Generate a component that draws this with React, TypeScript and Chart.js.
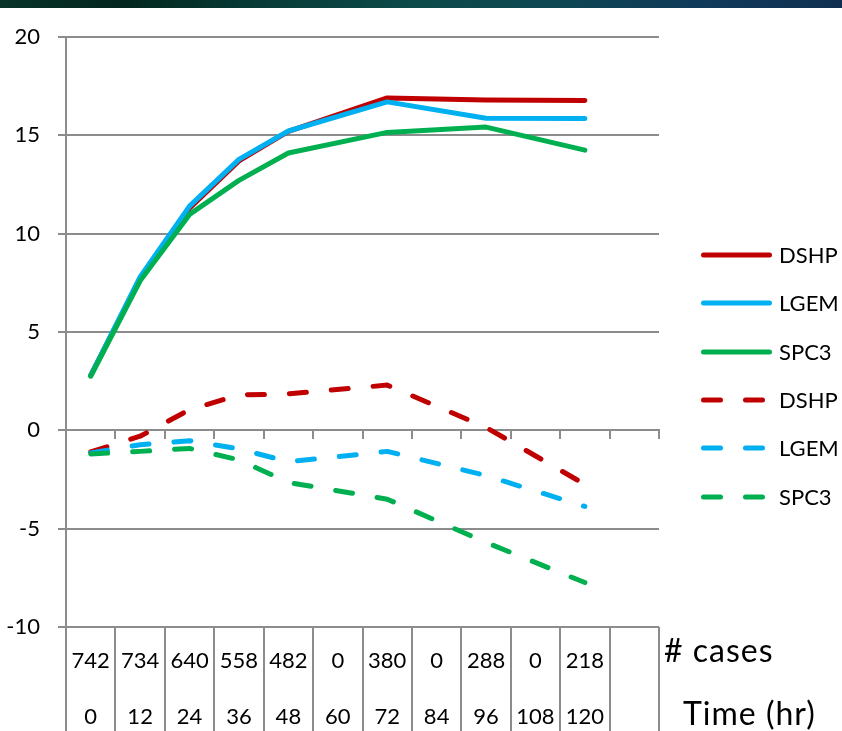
import React, { useEffect, useRef } from "react";
import { Chart, registerables } from "chart.js";

Chart.register(...registerables);

// Time points (hours); the last column is left empty
const timeHr = ["0", "12", "24", "36", "48", "60", "72", "84", "96", "108", "120", ""];
// Number of cases at each time point
const caseCounts = ["742", "734", "640", "558", "482", "0", "380", "0", "288", "0", "218", ""];

// Solid lines
const dshpSolid = [2.8, 7.7, 11.3, 13.7, 15.2, null, 16.9, null, 16.8, null, 16.77, null];
const lgemSolid = [2.8, 7.8, 11.4, 13.78, 15.22, null, 16.7, null, 15.87, null, 15.85, null];
const spc3Solid = [2.75, 7.6, 10.98, 12.71, 14.1, null, 15.15, null, 15.42, null, 14.25, null];

// Dashed lines
const dshpDashed = [-1.1, -0.3, 1.05, 1.8, 1.85, null, 2.3, null, 0.15, null, -2.75, null];
const lgemDashed = [-1.15, -0.73, -0.53, -0.94, -1.6, null, -1.07, null, -2.3, null, -3.87, null];
const spc3Dashed = [-1.2, -1.07, -0.92, -1.5, -2.65, null, -3.5, null, -5.7, null, -7.74, null];

const yMin = -10;
const yMax = 20;
const yStep = 5;

const RED = "#c00000";
const BLUE = "#00b0f0";
const GREEN = "#00b050";
const GRID = "#8c8c8c";
const DASH = [17, 25];
const FONT = "Lato, 'Open Sans', sans-serif";

type SeriesDef = { label: string; data: (number | null)[]; color: string; dashed: boolean; order: number };

const series: SeriesDef[] = [
  { label: "DSHP", data: dshpSolid, color: RED, dashed: false, order: 5 },
  { label: "LGEM", data: lgemSolid, color: BLUE, dashed: false, order: 4 },
  { label: "SPC3", data: spc3Solid, color: GREEN, dashed: false, order: 3 },
  { label: "DSHP", data: dshpDashed, color: RED, dashed: true, order: 2 },
  { label: "LGEM", data: lgemDashed, color: BLUE, dashed: true, order: 1 },
  { label: "SPC3", data: spc3Dashed, color: GREEN, dashed: true, order: 0 },
];

export default function App() {
  const canvasRef = useRef<HTMLCanvasElement | null>(null);

  useEffect(() => {
    if (!canvasRef.current) return;
    const chart = new Chart(canvasRef.current, {
      type: "line",
      data: {
        labels: timeHr,
        datasets: series.map((s) => ({
          label: s.label,
          data: s.data,
          borderColor: s.color,
          backgroundColor: s.color,
          borderWidth: 5,
          borderDash: s.dashed ? DASH : [],
          borderCapStyle: "round" as const,
          borderJoinStyle: "round" as const,
          pointRadius: 0,
          pointHoverRadius: 0,
          tension: 0,
          spanGaps: true,
          order: s.order,
        })),
      },
      options: {
        responsive: false,
        animation: false,
        events: [],
        layout: { padding: { top: 37, right: 183, left: 0, bottom: 0 } },
        plugins: {
          legend: { display: false },
          tooltip: { enabled: false },
        },
        scales: {
          x: {
            type: "category",
            position: "bottom",
            offset: true,
            grid: {
              display: true,
              drawOnChartArea: false,
              drawTicks: true,
              tickLength: 104,
              color: GRID,
              lineWidth: 2,
              offset: true,
            },
            border: { display: false },
            ticks: {
              autoSkip: false,
              maxRotation: 0,
              minRotation: 0,
              padding: -98,
              color: "#000",
              font: { family: FONT, size: 22, lineHeight: 56 / 22 },
              callback: (_v: any, i: number) => [caseCounts[i], timeHr[i]],
            },
            afterFit: (scale: any) => {
              scale.height = 104;
            },
          },
          xz: {
            type: "category",
            axis: "x",
            position: { y: 0 },
            offset: true,
            grid: {
              display: true,
              drawOnChartArea: false,
              drawTicks: true,
              tickLength: 8,
              color: GRID,
              lineWidth: 2,
              offset: true,
            },
            border: { display: true, color: GRID, width: 2 },
            ticks: { display: false },
          },
          y: {
            type: "linear",
            position: "left",
            min: yMin,
            max: yMax,
            ticks: {
              stepSize: yStep,
              padding: 18,
              color: "#000",
              font: { family: FONT, size: 22 },
            },
            grid: {
              color: GRID,
              lineWidth: 2,
              tickLength: 8,
              drawTicks: true,
            },
            border: { display: true, color: GRID, width: 2 },
            afterFit: (scale: any) => {
              scale.width = 66;
            },
          },
        },
      } as any,
    });
    return () => chart.destroy();
  }, []);

  const legendTop = 255;
  const legendStep = 48.3;

  return (
    <div
      style={{
        position: "absolute",
        left: 0,
        top: 0,
        width: 842,
        height: 731,
        overflow: "hidden",
        background: "#fff",
        fontFamily: FONT,
      }}
    >
      <canvas
        ref={canvasRef}
        width={842}
        height={731}
        style={{ position: "absolute", left: 0, top: 0, display: "block" }}
      />
      <div
        style={{
          position: "absolute",
          left: 0,
          top: 0,
          width: 842,
          height: 8,
          background:
            "linear-gradient(90deg, #093328 0%, #03261e 14%, #083c38 32%, #0c4a4a 50%, #0e4652 66%, #10395a 84%, #102f50 100%)",
        }}
      />
      {series.map((s, i) => {
        const cy = legendTop + i * legendStep;
        return (
          <div key={i}>
            <svg
              width={80}
              height={12}
              style={{ position: "absolute", left: 696, top: cy - 6, overflow: "visible" }}
            >
              <line
                x1={7.5}
                y1={6}
                x2={73.5}
                y2={6}
                stroke={s.color}
                strokeWidth={5}
                strokeLinecap="round"
                strokeDasharray={s.dashed ? DASH.join(" ") : undefined}
              />
            </svg>
            <div
              style={{
                position: "absolute",
                left: 779,
                top: cy - 13,
                height: 26,
                lineHeight: "26px",
                fontSize: 22,
                color: "#000",
                whiteSpace: "nowrap",
              }}
            >
              {s.label}
            </div>
          </div>
        );
      })}
      <div
        style={{
          position: "absolute",
          left: 664,
          top: 634,
          fontSize: 32,
          letterSpacing: 1,
          lineHeight: 1,
          color: "#000",
          whiteSpace: "nowrap",
        }}
      >
        # cases
      </div>
      <div
        style={{
          position: "absolute",
          left: 683,
          top: 697,
          fontSize: 32,
          letterSpacing: 1,
          lineHeight: 1,
          color: "#000",
          whiteSpace: "nowrap",
        }}
      >
        Time (hr)
      </div>
    </div>
  );
}
